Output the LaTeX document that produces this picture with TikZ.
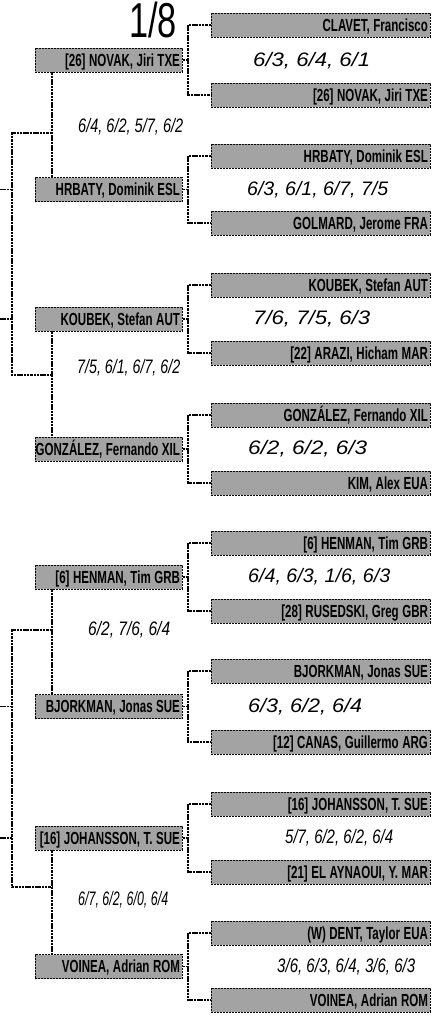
\documentclass[tikz,border=0pt]{standalone}
\usepackage{fontspec}
\usepackage{graphicx}
\newfontfamily\namefont{Liberation Sans}[FakeStretch=0.66]
\newfontfamily\scorefont{Liberation Sans}
\newfontfamily\bigfont{Liberation Sans}[FakeStretch=0.7]
\newcommand\scr[2]{\resizebox{#1pt}{\height}{\scorefont\itshape\fontsize{19.5}{19.5}\selectfont #2}}
\newcommand\rname[1]{\makebox[214pt][r]{#1}}
\newcommand\lname[1]{\makebox[142pt][r]{#1}}
\begin{document}
\begin{tikzpicture}[x=1pt,y=-1pt,
  ln/.style={line width=1.1pt, dash pattern=on 2.5pt off 0.8pt},
  namebox/.style={draw, line width=0.9pt, dash pattern=on 2pt off 1pt, fill=black!36,
    minimum height=24pt, inner xsep=2.5pt, inner ysep=0pt,
    text height=12.6pt, text depth=0pt, anchor=west,
    font={\namefont\bfseries\fontsize{17.5}{17.5}\selectfont\spaceskip=0.2em\relax}},
  rbox/.style={namebox},
  lbox/.style={namebox},
  score/.style={inner sep=0pt, anchor=west}]
\useasboundingbox (0,0) rectangle (432,1017);
% title
\node[font={\bigfont\fontsize{49}{49}\selectfont}, inner sep=0pt, anchor=base] (title) at (153,37) {1/8};
% right column
\node[rbox] (R0) at (211,25) {\rname{CLAVET, Francisco}};
\node[rbox] (R1) at (211,95) {\rname{[26] NOVAK, Jiri TXE}};
\node[rbox] (R2) at (211,156) {\rname{HRBATY, Dominik ESL}};
\node[rbox] (R3) at (211,223) {\rname{GOLMARD, Jerome FRA}};
\node[rbox] (R4) at (211,285) {\rname{KOUBEK, Stefan AUT}};
\node[rbox] (R5) at (211,353) {\rname{[22] ARAZI, Hicham MAR}};
\node[rbox] (R6) at (211,415) {\rname{GONZÁLEZ, Fernando XIL}};
\node[rbox] (R7) at (211,483) {\rname{KIM, Alex EUA}};
\node[rbox] (R8) at (211,543) {\rname{[6] HENMAN, Tim GRB}};
\node[rbox] (R9) at (211,611) {\rname{[28] RUSEDSKI, Greg GBR}};
\node[rbox] (R10) at (211,671) {\rname{BJORKMAN, Jonas SUE}};
\node[rbox] (R11) at (211,742) {\rname{[12] CANAS, Guillermo ARG}};
\node[rbox] (R12) at (211,804) {\rname{[16] JOHANSSON, T. SUE}};
\node[rbox] (R13) at (211,872) {\rname{[21] EL AYNAOUI, Y. MAR}};
\node[rbox] (R14) at (211,933) {\rname{(W) DENT, Taylor EUA}};
\node[rbox] (R15) at (211,1000) {\rname{VOINEA, Adrian ROM}};
% left column
\node[lbox] (L0) at (35,60) {\lname{[26] NOVAK, Jiri TXE}};
\node[lbox] (L1) at (35,189.5) {\lname{HRBATY, Dominik ESL}};
\node[lbox] (L2) at (35,319) {\lname{KOUBEK, Stefan AUT}};
\node[lbox] (L3) at (35,449) {\lname{GONZÁLEZ, Fernando XIL}};
\node[lbox] (L4) at (35,577) {\lname{[6] HENMAN, Tim GRB}};
\node[lbox] (L5) at (35,706.5) {\lname{BJORKMAN, Jonas SUE}};
\node[lbox] (L6) at (35,838) {\lname{[16] JOHANSSON, T. SUE}};
\node[lbox] (L7) at (35,966.5) {\lname{VOINEA, Adrian ROM}};
% right brackets
\coordinate (b0) at (188,60);
\coordinate (b1) at (188,189.5);
\coordinate (b2) at (188,319);
\coordinate (b3) at (188,449);
\coordinate (b4) at (188,577);
\coordinate (b5) at (188,706.5);
\coordinate (b6) at (188,838);
\coordinate (b7) at (188,966.5);
\draw[ln] (R0.west) -| (b0) |- (R1.west); \draw[ln] (L0.east) -- (b0);
\draw[ln] (R2.west) -| (b1) |- (R3.west); \draw[ln] (L1.east) -- (b1);
\draw[ln] (R4.west) -| (b2) |- (R5.west); \draw[ln] (L2.east) -- (b2);
\draw[ln] (R6.west) -| (b3) |- (R7.west); \draw[ln] (L3.east) -- (b3);
\draw[ln] (R8.west) -| (b4) |- (R9.west); \draw[ln] (L4.east) -- (b4);
\draw[ln] (R10.west) -| (b5) |- (R11.west); \draw[ln] (L5.east) -- (b5);
\draw[ln] (R12.west) -| (b6) |- (R13.west); \draw[ln] (L6.east) -- (b6);
\draw[ln] (R14.west) -| (b7) |- (R15.west); \draw[ln] (L7.east) -- (b7);
% left connectors
\draw[ln] ([xshift=17pt]L0.south west) -- ([xshift=17pt]L1.north west);
\draw[ln] ([xshift=17pt]L2.south west) -- ([xshift=17pt]L3.north west);
\draw[ln] ([xshift=17pt]L4.south west) -- ([xshift=17pt]L5.north west);
\draw[ln] ([xshift=17pt]L6.south west) -- ([xshift=17pt]L7.north west);
\coordinate (j0) at (52,133); \coordinate (o0) at (12,133);
\coordinate (j1) at (52,375); \coordinate (o1) at (12,375);
\coordinate (j2) at (52,630); \coordinate (o2) at (12,630);
\coordinate (j3) at (52,887); \coordinate (o3) at (12,887);
\draw[ln] (j0) -- (o0) -- (o1) -- (j1);
\draw[ln] (j2) -- (o2) -- (o3) -- (j3);
\coordinate (e1) at (0,189.5); \coordinate (e2) at (0,319);
\coordinate (e5) at (0,706.5); \coordinate (e6) at (0,838);
\draw[ln] (e1) -- (e1 -| o0);
\draw[ln] (e2) -- (e2 -| o0);
\draw[ln] (e5) -- (e5 -| o2);
\draw[ln] (e6) -- (e6 -| o2);
% scores right
\node[score] (s0) at (253,61) {\scr{117}{6/3, 6/4, 6/1}};
\node[score] (s1) at (247,190) {\scr{141}{6/3, 6/1, 6/7, 7/5}};
\node[score] (s2) at (253,319) {\scr{117}{7/6, 7/5, 6/3}};
\node[score] (s3) at (248,449) {\scr{119}{6/2, 6/2, 6/3}};
\node[score] (s4) at (248,577) {\scr{142}{6/4, 6/3, 1/6, 6/3}};
\node[score] (s5) at (248,707) {\scr{114}{6/3, 6/2, 6/4}};
\node[score] (s6) at (285,838) {\scr{108}{5/7, 6/2, 6/2, 6/4}};
\node[score] (s7) at (277,967) {\scr{138}{3/6, 6/3, 6/4, 3/6, 6/3}};
% scores left
\node[score] (a0) at (78,127) {\scr{105}{6/4, 6/2, 5/7, 6/2}};
\node[score] (a1) at (77,368) {\scr{103}{7/5, 6/1, 6/7, 6/2}};
\node[score] (a2) at (88,630) {\scr{82}{6/2, 7/6, 6/4}};
\node[score] (a3) at (78,900) {\scr{90}{6/7, 6/2, 6/0, 6/4}};
\end{tikzpicture}
\end{document}
